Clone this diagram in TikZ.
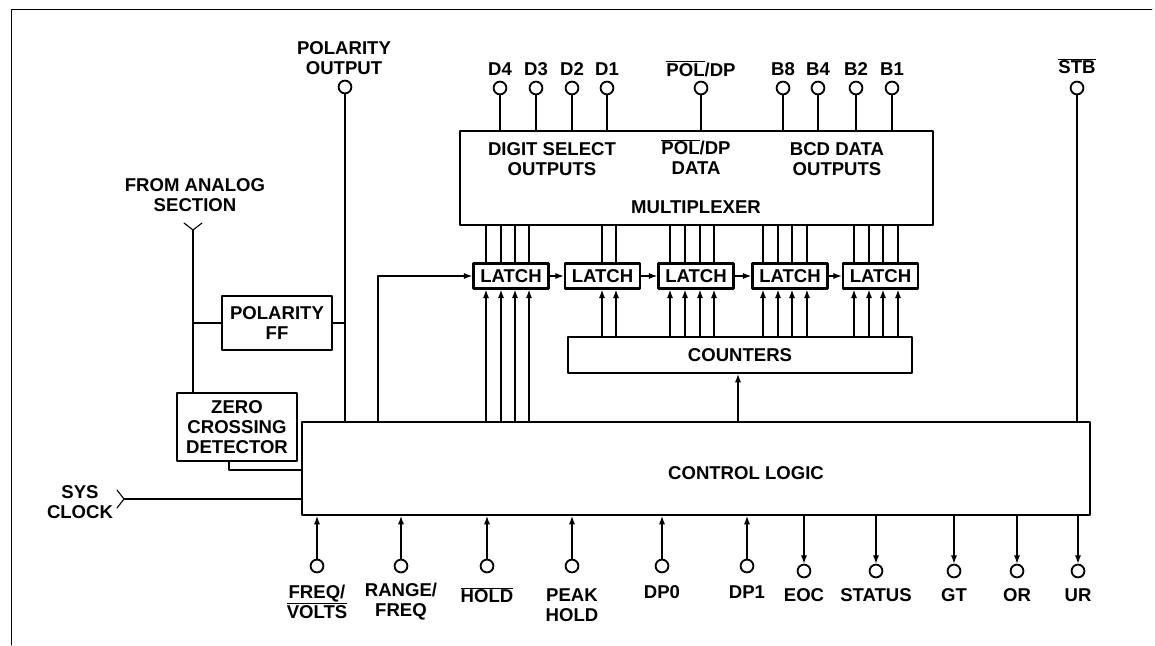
\documentclass[tikz,border=0pt]{standalone}
\usepackage{fontspec}
\setmainfont{Liberation Sans}
\usetikzlibrary{arrows.meta,positioning}

\newcommand{\ovl}[1]{$\overline{\hbox{#1}}$}

\begin{document}
\begin{tikzpicture}[x=0.025cm,y=-0.025cm,font=\bfseries\fontsize{13.2}{14.2}\selectfont,>={Latex[length=6pt,width=4.4pt]},line cap=round,line join=round]
  \tikzset{
    blk/.style={draw,line width=1.4pt,inner sep=0pt,align=center},
    latch/.style={draw,line width=1.8pt,inner sep=0pt,minimum width=1.875cm,minimum height=0.625cm},
    term/.style={draw,circle,line width=1.3pt,fill=white,inner sep=0pt,minimum size=0.32cm},
    txt/.style={inner sep=0pt,align=center},
    wire/.style={line width=0.8pt}
  }
  \useasboundingbox (0,0) rectangle (1155,645);
  % frame
  \draw[line width=0.6pt] (1152,9) -- (11,9) -- (11,645);
  % blocks
  \node[blk,minimum width=11.825cm,minimum height=2.35cm] (mux) at (696.5,178) {};
  \node[blk,minimum width=19.7cm,minimum height=2.325cm] (ctl) at (696,468.5) {};
  \node[blk,minimum width=8.6cm,minimum height=0.9cm] (cnt) at (740,355) {COUNTERS};
  \node[blk,minimum width=2.75cm,minimum height=1.35cm] (pff) at (277,323) {POLARITY\\FF};
  \node[blk,minimum width=3cm,minimum height=1.7cm] (zcd) at (237,427) {ZERO\\CROSSING\\DETECTOR};
  \node[txt] (digtxt) at (552,159) {DIGIT SELECT\\OUTPUTS};
  \node[txt] (poltxt) at (696,157) {\ovl{POL}/DP\\DATA};
  \node[txt] (bcdtxt) at (837,159) {BCD DATA\\OUTPUTS};
  \node[txt] (muxtxt) at (696,207) {MULTIPLEXER};
  \node[txt] (ctltxt) at (746,473) {CONTROL LOGIC};
  % latches
  \foreach \n/\x in {1/511,2/602.5,3/696,4/790,5/880.5}
    \node[latch] (l\n) at (\x,276) {LATCH};
  \draw[wire,->] (l1) -- (l2);
  \draw[wire,->] (l2) -- (l3);
  \draw[wire,->] (l3) -- (l4);
  \draw[wire,->] (l4) -- (l5);
  \foreach \x in {486,501,515,529}{
    \draw[wire,->] (\x,0 |- ctl.north) -- (\x,0 |- l1.south);
    \draw[wire] (\x,0 |- l1.north) -- (\x,0 |- mux.south);
  }
  \foreach \x in {602,616}{
    \draw[wire,->] (\x,0 |- cnt.north) -- (\x,0 |- l2.south);
    \draw[wire] (\x,0 |- l2.north) -- (\x,0 |- mux.south);
  }
  \foreach \x in {670,685,700,714}{
    \draw[wire,->] (\x,0 |- cnt.north) -- (\x,0 |- l3.south);
    \draw[wire] (\x,0 |- l3.north) -- (\x,0 |- mux.south);
  }
  \foreach \x in {763,778,792,807}{
    \draw[wire,->] (\x,0 |- cnt.north) -- (\x,0 |- l4.south);
    \draw[wire] (\x,0 |- l4.north) -- (\x,0 |- mux.south);
  }
  \foreach \x in {854,869,883,898}{
    \draw[wire,->] (\x,0 |- cnt.north) -- (\x,0 |- l5.south);
    \draw[wire] (\x,0 |- l5.north) -- (\x,0 |- mux.south);
  }
  \draw[wire,->] (378,0 |- ctl.north) |- (l1.west);
  \draw[wire,->] (738,0 |- ctl.north) -- (738,0 |- cnt.south);
  % top pins
  \foreach \n/\x/\t in {d4/500/D4,d3/536/D3,d2/572/D2,d1/607/D1,pd/701/{\ovl{POL}/DP},b8/783/B8,b4/818/B4,b2/856/B2,b1/892/B1}{
    \node[term] (\n) at (\x,88) {};
    \node[txt] (\n t) at (\x,69) {\t};
    \draw[wire] (\n) -- (\n |- mux.north);
  }
  \node[term] (stb) at (1077,88) {};
  \node[txt] (stbt) at (1077,66) {\ovl{STB}};
  \draw[wire] (stb) -- (stb |- ctl.north);
  % polarity
  \node[term] (pout) at (345,87) {};
  \node[txt] (poutt) at (344,58) {POLARITY\\OUTPUT};
  \draw[wire] (pout) -- (pout |- ctl.north);
  \draw[wire] (pff.east) -- (pff.east -| pout);
  \coordinate (ana) at (193,230);
  \node[txt] (anat) at (195,195) {FROM ANALOG\\SECTION};
  \draw[wire] (184,223) -- (ana) -- (202,223);
  \draw[wire] (ana) -- (ana |- zcd.north);
  \draw[wire] (ana |- pff.west) -- (pff.west);
  \draw[wire,line width=1.1pt] (229,0 |- zcd.south) |- (ctl.west |- 0,470);
  % clock
  \coordinate (clk) at (124,499);
  \node[txt] (clkt) at (80,502) {SYS\\CLOCK};
  \draw[wire] (117,490) -- (clk) -- (117,508);
  \draw[wire] (clk) -- (clk -| ctl.west);
  % bottom inputs
  \foreach \n/\x/\y/\t in {fv/317/602/{FREQ/\\\ovl{VOLTS}},rf/401/602/{RANGE/\\FREQ},ho/487/595/{\ovl{HOLD}},pk/572/605/{PEAK\\HOLD},dz/662/592/DP0,do/747/592/DP1}{
    \node[term] (\n) at (\x,566) {};
    \node[txt] (\n t) at (\x,\y) {\t};
    \draw[wire,->] (\n) -- (\n |- ctl.south);
  }
  % bottom outputs
  \foreach \n/\x/\t in {eoc/804/EOC,st/876/STATUS,gt/954/GT,or/1017/OR,ur/1078/UR}{
    \node[term] (\n) at (\x,571) {};
    \node[txt] (\n t) at (\x,595) {\t};
    \draw[wire,->] (\n |- ctl.south) -- (\n.north);
  }
\end{tikzpicture}
\end{document}
